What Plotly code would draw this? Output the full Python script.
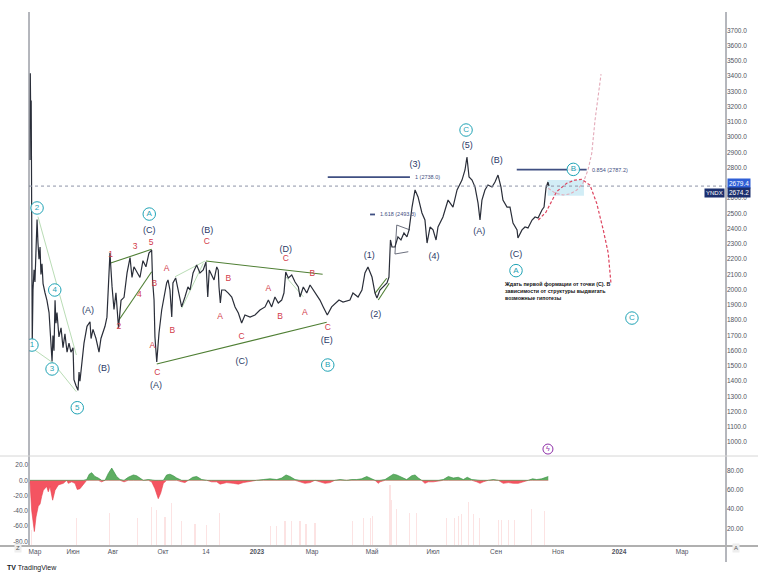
import plotly.graph_objects as go

# ---------------- data (x = bar index on TradingView's session-based time scale) ----------------
bars = [0.0, 0.2, 0.5, 0.8, 1.0, 1.3, 1.5, 2.0, 2.7, 3.3, 4.0, 4.7, 5.3, 6.0, 6.7, 7.3, 8.0, 8.7,
        10.0, 11.3, 12.7, 14.0, 14.7, 15.3, 16.0, 16.7, 17.3, 18.0, 19.3, 20.7, 22.0, 23.3, 24.7,
        26.0, 27.3, 28.7, 29.3, 30.7, 32.0, 32.7, 33.3, 34.7, 36.0, 38.0, 40.0, 40.7, 42.0, 44.0,
        46.0, 47.3, 50.0, 51.3, 53.3, 54.7, 56.0, 57.3, 59.0, 60.7, 62.7, 64.7, 66.7, 68.0, 69.3,
        73.3, 75.3, 77.3, 79.3, 81.1, 81.7, 82.7, 83.3, 84.5, 86.0, 87.8, 89.3, 91.1, 92.0, 93.3,
        94.5, 95.3, 97.1, 98.7, 101.1, 103.3, 105.3, 106.7, 108.7, 111.1, 113.3, 115.5, 117.3,
        118.5, 119.5, 121.1, 122.7, 124.5, 125.5, 126.0, 126.9, 127.8, 130.0, 132.2, 134.5, 136.7,
        138.9, 141.1, 143.3, 146.7, 150.0, 153.3, 156.7, 158.9, 161.1, 163.3, 165.5, 167.8, 169.3,
        170.5, 172.2, 174.5, 176.7, 178.9, 180.0, 182.2, 184.5, 186.7, 188.9, 191.1, 193.3, 195.5,
        198.2, 201.1, 204.5, 206.0, 208.7, 213.3, 215.3, 218.7, 221.3, 223.3, 225.3, 228.0, 230.0,
        231.3, 233.3, 235.3, 238.0, 239.3, 240.3, 241.3, 243.3, 245.3, 247.3, 249.3, 251.3, 252.7,
        254.7, 256.7, 258.7, 261.3, 263.3, 264.7, 266.7, 268.7, 270.7, 272.0, 275.3, 278.7, 282.0,
        284.7, 288.0, 290.0, 291.3, 292.7, 294.7, 296.7, 298.7, 300.0, 301.3, 303.3, 305.3, 308.0,
        310.0, 312.0, 314.0, 315.3, 318.0, 320.0, 322.0, 324.7, 325.3, 328.0, 330.0, 332.0, 334.7,
        336.7, 338.7, 341.3, 342.7, 344.0, 345.3, 346.0]
price = [2850, 3420, 3110, 3240, 2850, 2260, 1650, 2000, 2130, 2050, 2300, 2460, 2310, 2200, 2280,
         2100, 2170, 2040, 1980, 1930, 1850, 1600, 1530, 1700, 1600, 1930, 1780, 1850, 1690, 1750,
         1620, 1710, 1590, 1650, 1590, 1620, 1410, 1370, 1340, 1460, 1400, 1530, 1650, 1760, 1790,
         1680, 1740, 1680, 1590, 1680, 1760, 1820, 2240, 2020, 1870, 1980, 1750, 1930, 1950, 2110,
         2210, 2080, 2150, 2080, 2190, 2150, 2240, 2260, 2064, 1932, 1690, 1526, 1716, 1867, 1952,
         2044, 2064, 1998, 1821, 2044, 2077, 1998, 1887, 1952, 2018, 1998, 2110, 2162, 2110, 2129,
         2182, 1952, 2129, 2096, 2064, 2149, 2129, 2018, 1913, 1998, 1998, 1978, 1952, 1887, 1847,
         1782, 1834, 1821, 1834, 1867, 1887, 1932, 1887, 1952, 1913, 1932, 1978, 2116, 2077, 2096,
         2050, 2018, 1952, 2018, 1978, 2031, 1998, 1965, 1932, 1887, 1834, 1887, 1919, 1932, 1919,
         1932, 1978, 1952, 1998, 2110, 2149, 2083, 1978, 1946, 1998, 2018, 2044, 2083, 2326, 2280,
         2280, 2346, 2326, 2372, 2346, 2392, 2542, 2654, 2608, 2503, 2457, 2306, 2411, 2392, 2326,
         2411, 2477, 2588, 2542, 2654, 2719, 2785, 2870, 2739, 2719, 2673, 2568, 2457, 2588, 2654,
         2687, 2673, 2706, 2752, 2673, 2588, 2542, 2542, 2437, 2392, 2339, 2392, 2411, 2405, 2457,
         2477, 2470, 2523, 2542, 2667, 2706, 2680]

last_price = 2679.4
prev_price = 2674.2

# oscillator (lower pane, left scale)
osc_bars = [0.0, 1.1, 2.9, 4.0, 5.5, 6.7, 7.8, 8.9, 11.1, 12.2, 13.3, 15.1, 16.7, 18.9, 22.2, 24.5,
            25.5, 27.8, 30.0, 31.5, 33.3, 35.5, 37.8, 39.5, 41.1, 43.3, 45.5, 47.8, 50.0, 52.2, 54.5,
            56.0, 57.8, 60.0, 62.7, 65.5, 68.9, 71.1, 73.3, 75.5, 78.9, 81.1, 83.3, 85.5, 87.1, 88.9,
            91.1, 93.3, 95.5, 97.8, 101.1, 103.3, 105.5, 108.5, 111.1, 114.5, 117.8, 121.1, 124.5,
            126.7, 131.1, 135.5, 138.9, 142.2, 146.7, 151.1, 155.5, 160.0, 164.5, 167.8, 170.7, 173.3,
            176.7, 180.0, 183.3, 186.7, 190.0, 193.3, 196.7, 200.0, 203.3, 206.7, 211.1, 214.5, 217.8,
            221.1, 224.5, 227.8, 230.0, 232.2, 233.3, 236.7, 240.0, 242.2, 244.5, 247.8, 251.1, 254.5,
            256.7, 258.9, 261.1, 263.3, 265.5, 268.9, 272.2, 275.5, 278.9, 282.2, 285.5, 288.9, 291.5,
            294.5, 297.8, 300.0, 302.2, 305.5, 308.9, 312.2, 315.5, 318.9, 322.2, 325.5, 328.9, 332.2,
            335.1, 337.8, 341.1, 343.3, 345.5]
osc_vals = [-2, -39, -67, -48, -34, -31, -21, -13, -8, -15, -8, -26, -13, -6, -4, 0, -4, -2, -4, -12,
            -11, -6, 1, 8, 10, 5, 3, -2, 0, 9, 16, 11, 5, 1, -2, 4, 7, 6, 3, 0, 1, -2, -11, -24, -17,
            -4, 7, 8, 6, 3, -2, -3, 0, 4, 5, 1, 0, -2, -2, -5, -3, -4, -5, -3, -1, 0, 1, 2, 1, 3, 7,
            5, 1, -2, -4, -3, 0, -2, -4, -3, 0, 1, 0, 1, 1, 2, 5, 2, 0, -4, -2, 1, 5, 8, 7, 4, 1, 6,
            7, 3, 0, -4, -2, -2, -1, 1, 5, 3, 4, 1, 4, 1, -2, -4, -2, 0, 1, 0, -4, -3, -4, -4, -2, 0,
            2, 1, 2, 4, 5]

# faint activity spikes (lower pane, right scale)
act_bars = [0.7, 31.3, 53.3, 71.8, 81.1, 84.5, 90.0, 94.5, 101.1, 110.0, 117.8, 126.2, 160.5, 164.5,
            170.0, 174.5, 180.0, 184.0, 190.0, 215.1, 222.2, 226.7, 228.5, 240.0, 241.1, 244.5, 253.3,
            257.8, 277.8, 282.7, 285.5, 287.8, 292.2, 295.5, 299.5, 312.2, 314.5, 318.9, 322.9, 334.5,
            343.3]
act_vals = [18, 31, 36, 31, 42, 39, 32, 46, 28, 25, 24, 36, 22, 22, 28, 28, 28, 25, 26, 28, 31, 31,
            33, 65, 50, 40, 36, 36, 31, 31, 33, 35, 47, 35, 31, 29, 29, 29, 29, 40, 38]

tick_bars = [3.3, 28.7, 55.3, 88.7, 117.3, 151.3, 188.0, 228.0, 268.7, 310.7, 352.0, 392.7, 434.7]
tick_labels = ["Мар", "Июн", "Авг", "Окт", "14", "<b>2023</b>", "Мар", "Май", "Июл", "Сен", "Ноя",
               "<b>2024</b>", "Мар"]

# 2700.0 sits under the last-price boxes, as in the reference
price_ticks = [v for v in range(1000, 3800, 100) if v != 2700]

# Elliott wave labels: (bar, price, text)
teal_labels = [(1.3, 1637, "1"), (4.7, 2536, "2"), (14.7, 1480, "3"), (16.5, 1998, "4"),
               (31.5, 1226, "5"), (79.5, 2496, "A"), (198.5, 1506, "B"), (290.7, 3047, "C"),
               (324.0, 2125, "A"), (362.2, 2789, "B"), (401.3, 1814, "C")]
navy_labels = [(79.5, 2387, "(C)"), (38.7, 1860, "(A)"), (49.3, 1480, "(B)"), (84.0, 1369, "(A)"),
               (118.2, 2385, "(B)"), (141.1, 1526, "(C)"), (170.5, 2260, "(D)"), (197.8, 1664, "(E)"),
               (226.2, 2223, "(1)"), (230.5, 1839, "(2)"), (256.7, 2818, "(3)"), (269.3, 2216, "(4)"),
               (291.5, 2942, "(5)"), (299.5, 2380, "(A)"), (311.1, 2844, "(B)"), (324.0, 2228, "(C)")]
red_labels = [(53.8, 2228, "1"), (59.3, 1753, "2"), (70.0, 2278, "3"), (72.9, 1965, "4"),
              (80.7, 2304, "5"), (82.9, 2035, "B"), (81.5, 1631, "A"), (84.9, 1452, "C"),
              (91.1, 2134, "A"), (94.9, 1729, "B"), (117.8, 2315, "C"), (126.7, 1819, "A"),
              (132.2, 2070, "B"), (141.1, 1692, "C"), (158.9, 2003, "A"), (166.7, 1819, "B"),
              (170.5, 2203, "C"), (183.3, 1845, "A"), (188.2, 2103, "B"), (198.5, 1747, "C")]

# trend lines (bar0, price0, bar1, price1)
green_lines = [(53.3, 2173, 81.1, 2265), (59.3, 1801, 81.1, 2118), (117.3, 2188, 195.1, 2101),
               (84.5, 1513, 197.8, 1786), (230.0, 1976, 237.8, 2075), (232.2, 1932, 239.5, 2042)]
light_lines = [(3.1, 1605, 14.2, 1528), (14.7, 1528, 30.9, 1331), (5.3, 2479, 30.9, 1572),
               (96.7, 2085, 116.7, 2188), (101.1, 1878, 115.5, 2173), (170.5, 2085, 182.2, 1954)]
wedge_bars = [253.3, 244.5, 243.3, 252.2]
wedge_prices = [2392, 2424, 2234, 2249]

# Fibonacci levels: (bar0, bar1, level, label)
fib_levels = [(198.5, 253.3, 2738.0, "1 (2738.0)"), (226.7, 230.0, 2493.3, "1.618 (2493.3)"),
              (324.5, 371.1, 2787.2, "0.854 (2787.2)")]

# projection zone and scenario paths
zone_bars = [345.1, 369.3]
zone_prices = [2616, 2719]
bear_bars = [338.9, 344.0, 351.1, 357.8, 363.3, 367.8, 373.3, 377.8, 382.2, 385.5, 387.3]
bear_prices = [2457, 2509, 2643, 2698, 2719, 2724, 2686, 2567, 2391, 2239, 2042]
bull_bars = [345.5, 350.0, 355.5, 360.0, 364.5, 368.7, 372.0, 374.5, 376.7, 378.7, 380.7]
bull_prices = [2665, 2634, 2621, 2628, 2654, 2700, 2785, 2894, 3113, 3277, 3414]

note_bar, note_price = 314.7, 2070
note_text = ("<b>Ждать первой формации от точки (C). В<br>зависимости от структуры выдвигать"
             "<br>возможные гипотезы</b>")
event_bar, event_price = 345.3, 955

FONT = "Liberation Sans, Arial, sans-serif"
NAVY = "#2b3a67"
RED = "#d23b4a"
TEAL = "#1fa3b5"

fig = go.Figure()

# scenario paths
fig.add_trace(go.Scatter(x=bull_bars, y=bull_prices, mode="lines",
                         line=dict(color="#e3a9b8", width=1.1, dash="3px,2px"), xaxis="x", yaxis="y"))
fig.add_trace(go.Scatter(x=bear_bars, y=bear_prices, mode="lines",
                         line=dict(color="#dd4660", width=1.2, dash="3px,2px"), xaxis="x", yaxis="y"))

# light wave lines
for b0, p0, b1, p1 in light_lines:
    fig.add_trace(go.Scatter(x=[b0, b1], y=[p0, p1], mode="lines",
                             line=dict(color="#b9dcb5", width=1), xaxis="x", yaxis="y"))
for b0, p0, b1, p1 in green_lines:
    fig.add_trace(go.Scatter(x=[b0, b1], y=[p0, p1], mode="lines",
                             line=dict(color="#4f7f34", width=1.1), xaxis="x", yaxis="y"))
fig.add_trace(go.Scatter(x=wedge_bars, y=wedge_prices, mode="lines",
                         line=dict(color="#5a5f6e", width=0.9), xaxis="x", yaxis="y"))

# price
fig.add_trace(go.Scatter(x=bars, y=price, mode="lines",
                         line=dict(color="#2a2e39", width=1.2), xaxis="x", yaxis="y"))

# fib levels
for b0, b1, lvl, lab in fib_levels:
    fig.add_trace(go.Scatter(x=[b0, b1], y=[lvl, lvl], mode="lines",
                             line=dict(color="#3f4f82", width=1.8), xaxis="x", yaxis="y"))
    fig.add_annotation(x=b1, y=lvl, xref="x", yref="y", text=lab, showarrow=False,
                       xanchor="left", xshift=3, font=dict(size=5.5, color="#3f4f82", family=FONT))

# wave labels
fig.add_trace(go.Scatter(x=[l[0] for l in navy_labels], y=[l[1] for l in navy_labels],
                         text=[l[2] for l in navy_labels], mode="text",
                         textfont=dict(size=9, color=NAVY, family=FONT), xaxis="x", yaxis="y"))
fig.add_trace(go.Scatter(x=[l[0] for l in red_labels], y=[l[1] for l in red_labels],
                         text=[l[2] for l in red_labels], mode="text",
                         textfont=dict(size=8.5, color=RED, family=FONT), xaxis="x", yaxis="y"))
fig.add_trace(go.Scatter(x=[l[0] for l in teal_labels], y=[l[1] for l in teal_labels],
                         text=[l[2] for l in teal_labels], mode="markers+text",
                         textposition="middle center",
                         marker=dict(symbol="circle", size=12.5, color="rgba(255,255,255,0.9)",
                                     line=dict(color=TEAL, width=1)),
                         textfont=dict(size=8, color=TEAL, family=FONT), xaxis="x", yaxis="y"))
fig.add_trace(go.Scatter(x=[event_bar], y=[event_price], text=["ϟ"], mode="markers+text",
                         textposition="middle center",
                         marker=dict(symbol="circle", size=10, color="white",
                                     line=dict(color="#8e2fa8", width=1)),
                         textfont=dict(size=7, color="#8e2fa8", family=FONT), xaxis="x", yaxis="y"))

# lower pane
osc_pos = [max(v, 0) for v in osc_vals]
osc_neg = [min(v, 0) for v in osc_vals]
fig.add_trace(go.Bar(x=act_bars, y=act_vals, width=0.7, marker=dict(color="rgba(239,83,80,0.16)",
                     line=dict(width=0)), xaxis="x2", yaxis="y3"))
fig.add_trace(go.Scatter(x=osc_bars, y=osc_neg, mode="lines", fill="tozeroy",
                         line=dict(color="#e8404c", width=0.6), fillcolor="rgba(242,54,69,0.85)",
                         xaxis="x2", yaxis="y2"))
fig.add_trace(go.Scatter(x=osc_bars, y=osc_pos, mode="lines", fill="tozeroy",
                         line=dict(color="#2e8b3a", width=0.6), fillcolor="rgba(67,160,71,0.85)",
                         xaxis="x2", yaxis="y2"))

# shapes
shapes = [
    dict(type="rect", xref="x", yref="y", x0=zone_bars[0], x1=zone_bars[1], y0=zone_prices[0],
         y1=zone_prices[1], fillcolor="rgba(180,225,240,0.6)", line=dict(width=0), layer="below"),
    dict(type="line", xref="paper", yref="y", x0=0, x1=1, y0=last_price, y1=last_price,
         line=dict(color="#8d93a8", width=1, dash="dot")),
    dict(type="line", xref="paper", yref="paper", x0=0, x1=0, y0=0, y1=1,
         line=dict(color="#6b6f7a", width=1)),
    dict(type="line", xref="paper", yref="paper", x0=1, x1=1, y0=-0.03, y1=1,
         line=dict(color="#6b6f7a", width=1)),
    dict(type="line", xref="paper", yref="paper", x0=-0.0416, x1=1.0459, y0=0.1685, y1=0.1685,
         line=dict(color="#d6d6d6", width=1)),
    dict(type="line", xref="paper", yref="paper", x0=-0.0416, x1=1.0459, y0=0, y1=0,
         line=dict(color="#b0b0b0", width=2)),
]

annotations = [
    dict(text="South_Capital опубликовал(а) на TradingView.com, Окт 23, 2023 15:51 UTC+3",
         x=-0.0359, y=1.0094, xref="paper", yref="paper", xanchor="left", yanchor="middle",
         showarrow=False, font=dict(size=7, color="#222", family=FONT)),
    dict(text="PLLC Yandex N.V. class A shs, 8Ч, MOEX", x=0.0086, y=0.985, xref="paper",
         yref="paper", xanchor="left", yanchor="middle", showarrow=False,
         font=dict(size=6.5, color="#50535e", family=FONT)),
    dict(text="RUB", x=1.0215, y=0.984, xref="paper", yref="paper", xanchor="center",
         yanchor="middle", showarrow=False, font=dict(size=6.5, color="#333", family=FONT),
         bgcolor="white", bordercolor="#dddddd", borderwidth=1, borderpad=1),
    dict(text=f"{last_price:.1f}", x=1, y=last_price, xref="paper", yref="y", xanchor="left",
         xshift=1, yshift=3, showarrow=False, bgcolor="#2f5fd6", borderpad=1,
         font=dict(size=6.5, color="white", family=FONT)),
    dict(text=f"{prev_price:.1f}", x=1, y=prev_price, xref="paper", yref="y", xanchor="left",
         xshift=1, yshift=-6, showarrow=False, bgcolor="#1b2f6e", borderpad=1,
         font=dict(size=6.5, color="white", family=FONT)),
    dict(text="YNDX", x=1, y=prev_price, xref="paper", yref="y", xanchor="right",
         xshift=-1, yshift=-6, showarrow=False, bgcolor="#1b2f6e", borderpad=1,
         font=dict(size=6, color="white", family=FONT)),
    dict(text=note_text, x=note_bar, y=note_price, xref="x", yref="y", xanchor="left",
         yanchor="top", align="left", showarrow=False,
         font=dict(size=5.3, color="#111", family=FONT)),
    dict(text="Z", x=-0.0215, y=-0.013, xref="paper", yref="paper", showarrow=False,
         bgcolor="#eeeeee", borderpad=1, font=dict(size=6, color="#555", family=FONT)),
    dict(text="A", x=1.0201, y=-0.013, xref="paper", yref="paper", showarrow=False,
         bgcolor="#eeeeee", borderpad=1, font=dict(size=6, color="#555", family=FONT)),
    dict(text="<b>TV</b> TradingView", x=-0.0344, y=-0.0412, xref="paper", yref="paper",
         xanchor="left", yanchor="middle", showarrow=False,
         font=dict(size=7, color="#131722", family=FONT)),
]

axis_font = dict(size=6.5, color="#50535e", family=FONT)
fig.update_layout(
    width=758, height=576, margin=dict(l=29, r=32, t=12, b=30),
    paper_bgcolor="white", plot_bgcolor="white", showlegend=False,
    font=dict(family=FONT),
    xaxis=dict(domain=[0, 1], anchor="y", range=[-0.67, 464], matches="x2", showticklabels=False,
               showgrid=False, zeroline=False, showline=False),
    yaxis=dict(domain=[0.1704, 1], anchor="x", side="right", range=[916, 3821],
               tickvals=price_ticks, ticktext=[f"{v}.0" for v in price_ticks], tickfont=axis_font,
               showgrid=False, zeroline=False, ticks=""),
    xaxis2=dict(domain=[0, 1], anchor="y2", range=[-0.67, 464], tickvals=tick_bars,
                ticktext=tick_labels, tickfont=axis_font, showgrid=False, zeroline=False, ticks=""),
    yaxis2=dict(domain=[0, 0.1667], anchor="x2", side="left", range=[-85.9, 30.5],
                tickvals=[20, 0, -20, -40, -60, -80],
                ticktext=["20.0", "0.0", "-20.0", "-40.0", "-60.0", "-80.0"], tickfont=axis_font,
                showgrid=False, zeroline=False, ticks=""),
    yaxis3=dict(overlaying="y2", anchor="x2", side="right", range=[1.6, 94.3],
                tickvals=[20, 40, 60, 80], ticktext=["20.00", "40.00", "60.00", "80.00"],
                tickfont=axis_font, showgrid=False, zeroline=False, ticks=""),
    shapes=shapes, annotations=annotations, bargap=0,
)

fig.write_html("out.html")
